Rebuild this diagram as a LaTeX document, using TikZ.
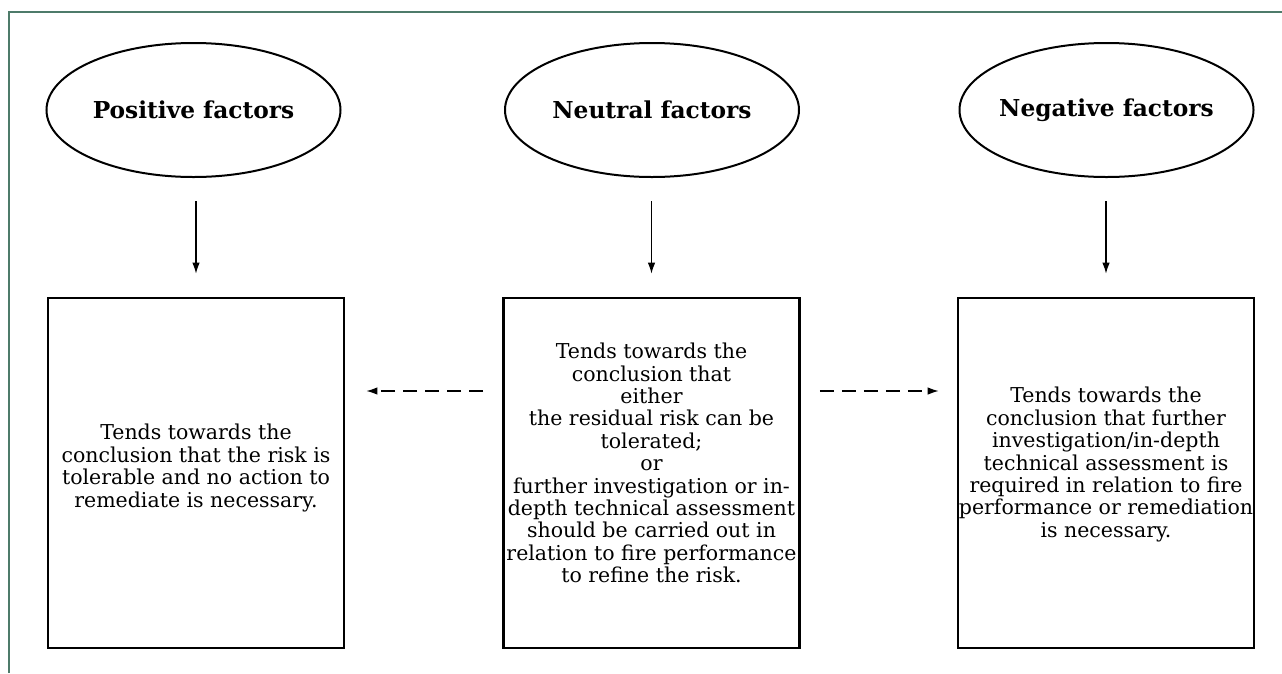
\documentclass[tikz,border=0pt]{standalone}
\usepackage{fontspec}
\setmainfont{DejaVu Serif}
\usetikzlibrary{shapes.geometric,arrows.meta,calc}
\definecolor{framec}{HTML}{4E7B6A}
\begin{document}
\begin{tikzpicture}[x=1pt,y=-1pt,
  title/.style={ellipse, draw, line width=2pt, minimum width=294pt, minimum height=134pt, inner ysep=0pt, inner xsep=-40pt, font=\fontsize{23.3}{27}\selectfont\bfseries},
  box/.style={draw, line width=2.8pt, minimum width=296pt, minimum height=350pt, inner sep=0pt},
  boxtext/.style={align=center, font=\fontsize{20.5}{22.4}\selectfont, inner sep=0pt},
  arr/.style={line width=1.1pt, -{Latex[length=11pt,width=7.5pt]}},
  darr/.style={line width=1.1pt, dash pattern=on 14pt off 8pt, -{Latex[length=11pt,width=7.5pt]}}]
\useasboundingbox (0,0) rectangle (1282,673);
\draw[framec, line width=1.5pt] (9,673) -- (9,12) -- (1282,12);

\node[title] (e1) at (193.5,110) {Positive factors};
\node[title] (e2) at (652,110) {Neutral factors};
\node[title] (e3) at (1106.5,110) {Negative factors};

\node[box] (b1) at (196,473) {};
\node[box] (b2) at (651.5,473) {};
\node[box] (b3) at (1106,473) {};

\node[boxtext] (t1) at (196,468) {Tends towards the\\conclusion that the risk is\\tolerable and no action to\\remediate is necessary.};
\node[boxtext] (t2) at (651.5,463) {Tends towards the\\conclusion that\\either\\the residual risk can be\\tolerated;\\or\\further investigation or in-\\depth technical assessment\\should be carried out in\\relation to fire performance\\to refine the risk.};
\node[boxtext] (t3) at (1106,464.5) {Tends towards the\\conclusion that further\\investigation/in-depth\\technical assessment is\\required in relation to fire\\performance or remediation\\is necessary.};

\draw[arr, shorten <=23pt, shorten >=23pt] (b1.north |- e1.south) -- (b1.north);
\draw[arr, shorten <=23pt, shorten >=23pt] (b2.north |- e2.south) -- (b2.north);
\draw[arr, shorten <=23pt, shorten >=23pt] (b3.north |- e3.south) -- (b3.north);

\draw[darr, shorten <=19pt, shorten >=21pt] ([yshift=82pt]b2.west) -- ([yshift=82pt]b1.east);
\draw[darr, shorten <=19pt, shorten >=18pt] ([yshift=82pt]b2.east) -- ([yshift=82pt]b3.west);
\end{tikzpicture}
\end{document}
